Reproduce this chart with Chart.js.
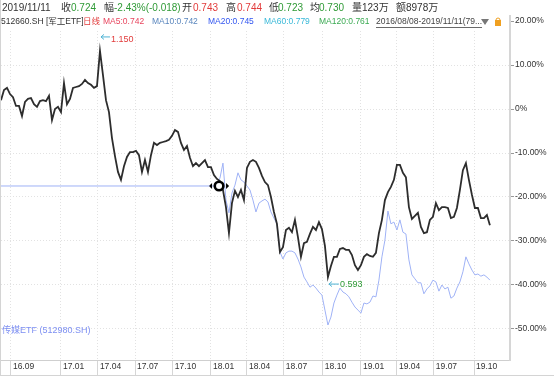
<!DOCTYPE html>
<html>
<head>
<meta charset="utf-8">
<script src="https://cdn.jsdelivr.net/npm/chart.js@4.4.1/dist/chart.umd.min.js"></script>
<style>
  html, body { margin: 0; padding: 0; background: #fff; }
  #wrap { width: 554px; height: 376px; }
</style>
</head>
<body>
<div id="wrap"><canvas id="kline" width="554" height="376"></canvas></div>
<script>
// 军工ETF 512660 区间涨跌幅(%)，每周取一个点，2016/08/08 起
const junGong = [
  2.0, 4.3, 4.8, 3.4, 2.7, 0.7, 0.7, -1.6, 1.6, 2.3,
  2.5, 1.1, 0.5, 1.8, 2.0, 1.8, 3.0, -2.5, 0.0, 0.5,
  -0.7, 5.9, 1.1, 2.3, 4.8, 5.0, 5.2, 5.7, 6.6, 5.9,
  5.5, 4.8, 5.2, 13.2, 7.7, 2.0, -0.7, -6.6, -10.7, -14.3,
  -16.1, -13.0, -10.9, -9.8, -9.8, -9.5, -10.5, -14.3, -11.6, -14.3,
  -10.5, -7.7, -8.2, -7.7, -7.5, -7.3, -7.0, -6.1, -4.8, -5.2,
  -7.7, -9.3, -8.4, -11.1, -13.0, -12.3, -13.0, -12.3, -11.6, -13.2,
  -13.2, -15.0, -15.9, -16.4, -18.4, -22.3, -28.2, -21.4, -18.6, -20.0,
  -18.4, -20.7, -13.4, -12.0, -11.6, -12.0, -13.4, -15.2, -16.6, -17.3,
  -20.0, -23.4, -26.1, -32.5, -31.4, -27.5, -27.0, -28.0, -25.2, -29.1,
  -33.6, -30.5, -30.2, -28.4, -26.8, -27.5, -25.7, -27.3, -31.1, -38.2,
  -35.7, -33.6, -33.6, -31.8, -31.6, -32.0, -32.0, -33.2, -35.5, -36.6,
  -35.5, -33.6, -33.0, -33.4, -33.6, -32.7, -28.2, -25.2, -20.7, -18.9,
  -17.7, -16.1, -12.7, -12.7, -14.5, -15.5, -22.3, -25.0, -24.3, -23.6,
  -26.8, -28.2, -28.0, -25.2, -24.5, -21.4, -23.0, -22.3, -22.3, -22.5,
  -24.8, -24.5, -22.5, -18.4, -13.9, -12.3, -16.1, -19.5, -22.5, -22.5,
  -24.8, -24.8, -24.1, -26.4
];

// 传媒ETF 512980 (上市前按首日值画平线)
const chuanMeiStart = 70;
const chuanMei = [
  -17.5, -17.5, -17.0, -15.7, -12.3, -20.7, -23.6, -19.1, -17.3, -14.5,
  -16.1, -16.6, -17.5, -18.4, -20.7, -23.4, -21.4, -20.9, -20.5, -21.1,
  -23.4, -24.8, -26.1, -32.5, -34.1, -32.7, -32.3, -32.3, -32.7, -34.1,
  -35.9, -38.2, -39.3, -40.5, -40.0, -40.7, -41.6, -42.3, -45.7, -49.1,
  -47.3, -44.1, -42.3, -40.7, -41.6, -42.0, -42.7, -43.9, -45.0, -45.7,
  -46.4, -44.1, -44.3, -43.9, -42.5, -42.7, -38.9, -33.6, -29.8, -23.2,
  -26.1, -25.7, -27.5, -25.2, -28.0, -28.4, -34.3, -37.7, -38.6, -39.5,
  -39.5, -42.0, -40.9, -40.2, -38.9, -39.3, -41.4, -40.0, -40.9, -40.5,
  -43.0, -42.5, -40.7, -39.3, -37.0, -33.6, -35.2, -36.6, -37.7, -37.5,
  -38.0, -37.7, -38.2, -38.9
];

// 月份刻度 (周序号)
const monthLabels = ['16.09', '17.01', '17.04', '17.07', '17.10', '18.01', '18.04', '18.07', '18.10', '19.01', '19.04', '19.07', '19.10'];
const monthPos = [3.3, 20, 32.3, 44.7, 57.3, 70, 82, 94.3, 107.3, 120, 132, 144.3, 157.7];
const yTicks = [20, 10, 0, -10, -20, -30, -40, -50];

const priceHigh = '1.150';
const priceLow = '0.593';
const cursorAt = [72.7, -17.5];

const RED = '#e23b3b';
const GREEN = '#2f9a36';
const TXT = '#333';
const FONT = '"Liberation Sans", "Noto Sans CJK SC", sans-serif';

const header1 = [
  ['2019/11/11', 2, TXT], ['收', 61, TXT], ['0.724', 71, GREEN], ['幅', 104, TXT],
  ['-2.43%(-0.018)', 114, GREEN], ['开', 182, TXT], ['0.743', 193, RED], ['高', 226, TXT],
  ['0.744', 237, RED], ['低', 269, TXT], ['0.723', 278, GREEN], ['均', 310, TXT],
  ['0.730', 319, GREEN], ['量', 352, TXT], ['123万', 362, TXT], ['额', 396, TXT], ['8978万', 406, TXT]
];
const header2 = [
  ['512660.SH [军工ETF]', 1, TXT], ['日线', 83, RED], ['MA5:0.742', 103, '#e8455e'],
  ['MA10:0.742', 152, '#5a86bd'], ['MA20:0.745', 208, '#3256f0'], ['MA60:0.779', 264, '#38b8d8'],
  ['MA120:0.761', 319, '#3aaa52']
];

const arrow = (ctx, x1, x2, yy) => {
  ctx.strokeStyle = '#4fb3d4';
  ctx.lineWidth = 1;
  ctx.beginPath();
  ctx.moveTo(x1, yy); ctx.lineTo(x2, yy);
  ctx.moveTo(x1 + 3, yy - 2.5); ctx.lineTo(x1, yy); ctx.lineTo(x1 + 3, yy + 2.5);
  ctx.stroke();
};

const overlay = {
  id: 'overlay',
  afterDraw(chart) {
    const { ctx, scales: { x, y } } = chart;
    ctx.save();

    // 外框
    ctx.strokeStyle = '#d4d4d4';
    ctx.lineWidth = 1;
    ctx.beginPath();
    ctx.moveTo(0.5, 0); ctx.lineTo(0.5, 376);
    ctx.moveTo(0, 375.5); ctx.lineTo(554, 375.5);
    ctx.stroke();

    // 标题栏
    ctx.fillStyle = '#fff';
    ctx.fillRect(1, 0, 508, 29);
    ctx.textBaseline = 'middle';
    ctx.font = '10px ' + FONT;
    header1.forEach(([t, px, c]) => { ctx.fillStyle = c; ctx.fillText(t, px, 8); });
    ctx.font = '8.5px ' + FONT;
    header2.forEach(([t, px, c]) => { ctx.fillStyle = c; ctx.fillText(t, px, 22); });
    const range = '2016/08/08-2019/11/11(79...';
    ctx.fillStyle = '#444';
    ctx.fillText(range, 376, 22);
    const w = ctx.measureText(range).width;
    ctx.fillRect(376, 27, w, 0.8);
    // 下拉三角和锁
    ctx.fillStyle = '#777';
    ctx.beginPath(); ctx.moveTo(481, 19); ctx.lineTo(489, 19); ctx.lineTo(485, 25); ctx.fill();
    ctx.fillStyle = '#f0a020';
    ctx.fillRect(495, 20, 6, 6);
    ctx.strokeStyle = '#f0a020';
    ctx.beginPath(); ctx.arc(498, 20, 2, Math.PI, 0); ctx.stroke();

    // 最高/最低标注
    const iMax = junGong.indexOf(Math.max(...junGong));
    const iMin = junGong.indexOf(Math.min(...junGong));
    ctx.font = '9px ' + FONT;
    let px = x.getPixelForValue(iMax), py = y.getPixelForValue(junGong[iMax]);
    arrow(ctx, px + 1, px + 10, py - 14);
    ctx.fillStyle = RED;
    ctx.fillText(priceHigh, px + 11, py - 11);
    px = x.getPixelForValue(iMin); py = y.getPixelForValue(junGong[iMin]);
    arrow(ctx, px + 1, px + 11, py + 7);
    ctx.fillStyle = GREEN;
    ctx.fillText(priceLow, px + 12, py + 7);

    // 叠加品种名
    ctx.fillStyle = '#7d8ff2';
    ctx.fillText('传媒ETF (512980.SH)', 2, 331);

    // 光标
    const cx = x.getPixelForValue(cursorAt[0]), cy = y.getPixelForValue(cursorAt[1]);
    ctx.fillStyle = '#000';
    ctx.beginPath(); ctx.moveTo(cx - 10, cy); ctx.lineTo(cx - 7, cy - 3); ctx.lineTo(cx - 7, cy + 3); ctx.fill();
    ctx.beginPath(); ctx.moveTo(cx + 10, cy); ctx.lineTo(cx + 7, cy - 3); ctx.lineTo(cx + 7, cy + 3); ctx.fill();
    ctx.beginPath(); ctx.arc(cx, cy, 4.3, 0, Math.PI * 2);
    ctx.fillStyle = '#fff'; ctx.fill();
    ctx.lineWidth = 2.6; ctx.strokeStyle = '#000'; ctx.stroke();

    ctx.restore();
  }
};

const bluePoints = [{ x: 0, y: chuanMei[0] }].concat(chuanMei.map((v, k) => ({ x: chuanMeiStart + k, y: v })));

new Chart(document.getElementById('kline'), {
  type: 'line',
  data: {
    datasets: [
      {
        label: '军工ETF',
        data: junGong.map((v, i) => ({ x: i, y: v })),
        borderColor: '#2d2d2d',
        borderWidth: 1.8,
        pointRadius: 0,
        order: 0
      },
      {
        label: '传媒ETF',
        data: bluePoints,
        borderColor: '#9fb2f6',
        borderWidth: 1,
        pointRadius: 0,
        order: 1
      }
    ]
  },
  options: {
    responsive: false,
    animation: false,
    layout: { padding: { left: 1, top: 16, right: 0, bottom: 0 } },
    plugins: { legend: { display: false }, tooltip: { enabled: false } },
    scales: {
      x: {
        type: 'linear',
        min: 0,
        max: 169.7,
        afterBuildTicks: (s) => { s.ticks = monthPos.map(v => ({ value: v })); },
        afterFit: (s) => { s.height = 16; },
        grid: { color: '#e2e2e2', tickLength: 16, tickColor: '#d6d6d6' },
        border: { display: true, color: '#cfcfcf', width: 1, dash: [1, 2] },
        ticks: {
          autoSkip: false,
          maxRotation: 0,
          align: 'start',
          labelOffset: 2,
          padding: -14,
          color: TXT,
          font: { family: FONT, size: 8.5 },
          callback: (v, i) => monthLabels[i]
        }
      },
      y: {
        position: 'right',
        min: -57.05,
        max: 21.14,
        afterBuildTicks: (s) => { s.ticks = yTicks.map(v => ({ value: v })); },
        afterFit: (s) => { s.width = 44; },
        grid: { color: '#e2e2e2', tickLength: 4, tickColor: '#999' },
        border: { display: true, color: '#d6d6d6', width: 2, dash: [1, 2] },
        ticks: {
          padding: 1,
          color: TXT,
          font: { family: FONT, size: 8.5 },
          callback: (v) => v === 0 ? '0%' : v.toFixed(2) + '%'
        }
      }
    }
  },
  plugins: [overlay]
});
</script>
</body>
</html>
